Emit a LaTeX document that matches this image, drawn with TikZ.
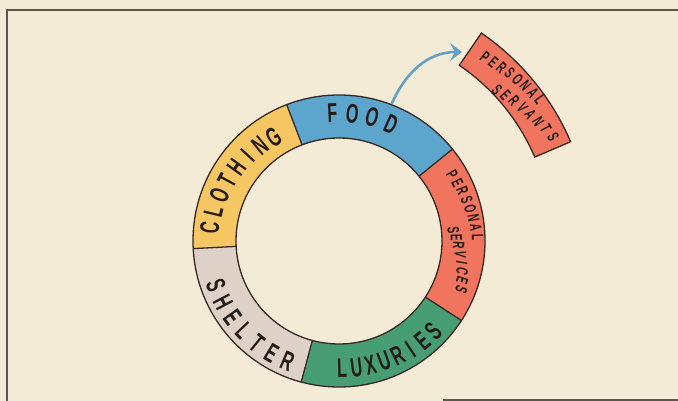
\documentclass[tikz,border=0pt]{standalone}
\usepackage{fontspec}
\usetikzlibrary{arrows.meta}
\newfontfamily\ringfont[FakeStretch=0.6]{Liberation Sans}
\definecolor{paper}{RGB}{243,235,214}
\definecolor{ink}{RGB}{35,28,24}
\definecolor{rim}{RGB}{55,40,35}
\definecolor{framegrey}{RGB}{95,85,75}
\definecolor{foodblue}{RGB}{92,166,206}
\definecolor{clothyellow}{RGB}{246,198,98}
\definecolor{sheltergrey}{RGB}{222,209,199}
\definecolor{luxgreen}{RGB}{72,158,116}
\definecolor{servsalmon}{RGB}{240,116,94}
\definecolor{arrowblue}{RGB}{100,160,200}

\begin{document}
\begin{tikzpicture}[x=1pt, y=1pt,
    bigletter/.style={font=\ringfont\bfseries\fontsize{27}{27}\selectfont, inner sep=0pt, text=ink},
    smallletter/.style={font=\ringfont\bfseries\fontsize{16.5}{16.5}\selectfont, inner sep=0pt, text=ink}]
    \fill[paper] (0,0) rectangle (678,401);
    \useasboundingbox (0,0) rectangle (678,401);
    \draw[framegrey, line width=1.2pt] (7,0) -- (7,391) -- (678,391);
    \draw[framegrey, line width=1.2pt] (443,1) -- (678,1);
    \begin{scope}[shift={(339,160)}]
    \foreach \a/\col in {39/foodblue, 111/clothyellow, 183/sheltergrey, 255/luxgreen, 327/servsalmon}
      \fill[\col] (\a:103) arc[start angle=\a, delta angle=72, radius=103]
        -- ({\a+72}:146) arc[start angle={\a+72}, delta angle=-72, radius=146] -- cycle;
    \draw[rim, line width=1.3pt] (0,0) circle (146) (0,0) circle (103);
    \foreach \a in {39,111,183,255,327}
      \draw[rim, line width=1.3pt] (\a:103) -- (\a:146);
    \filldraw[fill=servsalmon, draw=rim, line width=1.3pt]
      (23.2:213) arc[start angle=23.2, end angle=55.6, radius=213]
      -- (55.6:252) arc[start angle=55.6, end angle=23.2, radius=252] -- cycle;
    \coordinate (foodtop) at (69:147);
    \coordinate (servtip) at (123,189);
    \draw[arrowblue, line width=2.6pt, -{Stealth[length=12pt, width=18pt, inset=5pt]}]
      (foodtop) to[out=66, in=180] (servtip);
    \foreach \word/\a/\da/\r/\dr/\turn/\sty [count=\w] in {
        {F,O,O,D}/93/-9/128/0/-90/bigletter,
        {C,L,O,T,H,I,N,G}/174/-7.4/130/-1/-90/bigletter,
        {S,H,E,L,T,E,R}/200/7.8/131/0/90/bigletter,
        {L,U,X,U,R,I,E,S}/271.4/6.4/127/0.5/90/bigletter,
        {P,E,R,S,O,N,A,L}/30.3/-4.1/131/1.1/-90/smallletter,
        {S,E,R,V,I,C,E,S}/5.5/-3.9/115/2.4/-90/smallletter,
        {P,E,R,S,O,N,A,L}/51.6/-2.37/235/1.5/-90/smallletter,
        {S,E,R,V,A,N,T,S}/43.7/-2.54/218.5/2.8/-90/smallletter}
      \foreach \ch [count=\i] in \word
        \node[\sty, rotate={\a+\da*(\i-1)+\turn}] (w\w-\i)
          at ({\a+\da*(\i-1)}:{\r+\dr*(\i-1)}) {\ch};
    \end{scope}
\end{tikzpicture}
\end{document}
